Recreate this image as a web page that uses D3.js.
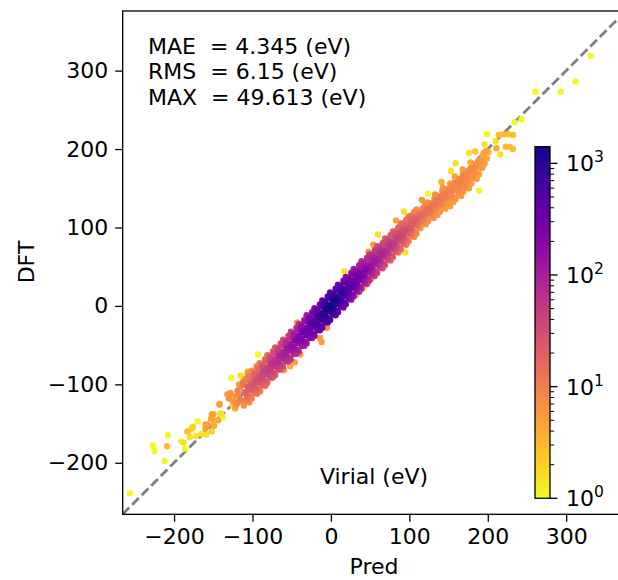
<!DOCTYPE html>
<html>
<head>
<meta charset="utf-8">
<script src="https://cdn.jsdelivr.net/npm/d3@7"></script>
<style>
  html, body { margin: 0; padding: 0; background: #fff; }
  svg text { font-family: "DejaVu Sans", sans-serif; fill: #000; }
</style>
</head>
<body>
<div id="chart"></div>
<script>
// [pred, dft, count]
const bandCore = [
  [-111,-127,6],[-108,-119,12],[-110,-110,20],[-112,-101,12],[-109,-93,6],
  [-104,-123,7],[-106,-113,14],[-105,-104,23],[-103,-97,14],[-106,-88,7],
  [-101,-118,8],[-99,-108,16],[-100,-101,27],[-98,-91,16],[-101,-83,8],
  [-94,-112,10],[-96,-104,19],[-95,-95,32],[-97,-86,19],[-94,-78,10],
  [-91,-108,11],[-89,-98,23],[-90,-91,38],[-88,-81,23],[-91,-73,11],
  [-84,-102,13],[-86,-94,26],[-85,-84,44],[-87,-77,26],[-84,-68,13],
  [-81,-98,16],[-79,-88,31],[-80,-81,52],[-78,-71,31],[-81,-63,16],
  [-74,-91,19],[-76,-84,37],[-75,-74,62],[-77,-67,37],[-74,-58,19],
  [-71,-88,22],[-69,-78,44],[-70,-71,74],[-68,-61,44],[-71,-53,22],
  [-64,-81,26],[-66,-74,53],[-65,-64,88],[-67,-57,53],[-64,-48,26],
  [-61,-78,32],[-59,-68,63],[-60,-61,105],[-58,-51,63],[-61,-43,32],
  [-54,-71,38],[-56,-64,75],[-55,-54,125],[-57,-47,75],[-54,-38,38],
  [-51,-68,46],[-49,-58,93],[-50,-51,155],[-48,-41,93],[-51,-33,46],
  [-44,-61,57],[-46,-54,114],[-45,-44,190],[-47,-37,114],[-44,-28,57],
  [-41,-58,69],[-39,-48,138],[-40,-41,230],[-38,-31,138],[-41,-23,69],
  [-34,-51,87],[-36,-44,174],[-35,-34,290],[-37,-27,174],[-34,-18,87],
  [-31,-48,108],[-29,-38,216],[-30,-31,360],[-28,-21,216],[-31,-12,108],
  [-24,-41,138],[-26,-34,276],[-25,-24,460],[-27,-17,276],[-24,-8,138],
  [-21,-38,180],[-19,-28,360],[-20,-21,600],[-18,-11,360],[-21,-3,180],
  [-14,-31,240],[-16,-24,480],[-15,-14,800],[-17,-7,480],[-14,2,240],
  [-11,-28,300],[-9,-18,600],[-10,-11,1000],[-8,-1,600],[-11,7,300],
  [-4,-21,375],[-6,-14,750],[-5,-4,1250],[-7,3,750],[-4,12,375],
  [-1,-18,420],[1,-8,840],[0,-1,1400],[2,9,840],[-1,17,420],
  [6,-12,375],[4,-3,750],[5,6,1250],[3,13,750],[6,22,375],
  [9,-8,300],[11,2,600],[10,9,1000],[12,19,600],[9,27,300],
  [16,-2,240],[14,6,480],[15,16,800],[13,23,480],[16,32,240],
  [19,2,180],[21,12,360],[20,19,600],[22,29,360],[19,37,180],
  [26,8,138],[24,16,276],[25,26,460],[23,33,276],[26,42,138],
  [29,12,108],[31,22,216],[30,29,360],[32,39,216],[29,47,108],
  [36,18,87],[34,26,174],[35,36,290],[33,43,174],[36,52,87],
  [39,22,69],[41,32,138],[40,39,230],[42,49,138],[39,57,69],
  [46,28,57],[44,36,114],[45,46,190],[43,53,114],[46,61,57],
  [49,32,46],[51,42,93],[50,49,155],[52,59,93],[49,66,46],
  [56,38,38],[54,46,75],[55,56,125],[53,63,75],[56,71,38],
  [59,42,32],[61,52,63],[60,59,105],[62,69,63],[59,76,32],
  [66,48,26],[64,56,53],[65,66,88],[63,73,53],[66,80,26],
  [69,52,22],[71,62,44],[70,69,74],[72,79,44],[69,86,22],
  [76,58,19],[74,66,37],[75,76,62],[73,83,37],[76,90,19],
  [79,62,16],[81,72,31],[80,79,52],[82,89,31],[79,95,16],
  [86,68,13],[84,76,26],[85,86,44],[83,93,26],[86,100,13],
  [89,72,11],[91,82,23],[90,89,38],[92,98,23],[89,105,11],
  [96,78,10],[94,86,19],[95,96,32],[93,103,19],[96,110,10],
  [99,82,8],[101,92,16],[100,99,27],[102,108,16],[99,114,8],
  [106,88,7],[104,96,14],[105,106,23],[103,113,14],[106,119,7],
  [109,92,6],[111,102,12],[110,109,20],[112,118,12],[109,123,6]
];

// second pass of the band, between the rows above
const bandFill = [
  [-107,-121,9],[-108,-112,17],[-106,-103,17],[-108,-95,9],
  [-103,-116,11],[-102,-107,20],[-101,-98,20],[-103,-90,11],
  [-97,-111,13],[-98,-102,23],[-96,-93,23],[-98,-85,13],
  [-93,-106,16],[-92,-97,28],[-91,-88,28],[-93,-80,16],
  [-87,-101,18],[-88,-92,33],[-86,-83,33],[-88,-75,18],
  [-83,-96,22],[-82,-87,38],[-81,-78,38],[-83,-70,22],
  [-77,-91,26],[-78,-82,46],[-76,-73,46],[-78,-65,26],
  [-73,-86,31],[-72,-77,54],[-71,-68,54],[-73,-60,31],
  [-67,-81,36],[-68,-72,65],[-66,-63,65],[-68,-55,36],
  [-63,-76,43],[-62,-67,77],[-61,-58,77],[-63,-50,43],
  [-57,-71,52],[-58,-62,92],[-56,-53,92],[-58,-45,52],
  [-53,-66,63],[-52,-57,112],[-51,-48,112],[-53,-40,63],
  [-47,-61,77],[-48,-52,136],[-46,-43,136],[-48,-35,77],
  [-43,-56,95],[-42,-47,168],[-41,-38,168],[-43,-30,95],
  [-37,-51,117],[-38,-42,208],[-36,-33,208],[-38,-25,117],
  [-33,-46,146],[-32,-37,260],[-31,-28,260],[-33,-20,146],
  [-27,-41,185],[-28,-32,328],[-26,-23,328],[-28,-15,185],
  [-23,-36,238],[-22,-27,424],[-21,-18,424],[-23,-10,238],
  [-17,-31,315],[-18,-22,560],[-16,-13,560],[-18,-5,315],
  [-13,-26,405],[-12,-17,720],[-11,-8,720],[-13,0,405],
  [-7,-21,504],[-8,-12,896],[-6,-3,896],[-8,5,504],
  [-3,-16,600],[-2,-7,1064],[-1,2,1064],[-3,10,600],
  [3,-11,600],[2,-2,1064],[3,7,1064],[2,15,600],
  [8,-6,504],[7,3,896],[8,12,896],[7,20,504],
  [13,-1,405],[12,8,720],[13,17,720],[12,25,405],
  [18,4,315],[17,13,560],[18,22,560],[17,30,315],
  [23,9,238],[22,18,424],[23,27,424],[22,35,238],
  [28,14,185],[27,23,328],[28,32,328],[27,40,185],
  [33,19,146],[32,28,260],[33,37,260],[32,45,146],
  [38,24,117],[37,33,208],[38,42,208],[37,50,117],
  [43,29,95],[42,38,168],[43,47,168],[42,55,95],
  [48,34,77],[47,43,136],[48,52,136],[47,60,77],
  [53,39,63],[52,48,112],[53,57,112],[52,65,63],
  [58,44,52],[57,53,92],[58,62,92],[57,70,52],
  [63,49,43],[62,58,77],[63,67,77],[62,75,43],
  [68,54,36],[67,63,65],[68,72,65],[67,80,36],
  [73,59,31],[72,68,54],[73,77,54],[72,85,31],
  [78,64,26],[77,73,46],[78,82,46],[77,90,26],
  [83,69,22],[82,78,38],[83,87,38],[82,95,22],
  [88,74,18],[87,83,33],[88,92,33],[87,100,18],
  [93,79,16],[92,88,28],[93,97,28],[92,105,16],
  [98,84,13],[97,93,23],[98,102,23],[97,110,13],
  [103,89,11],[102,98,20],[103,107,20],[102,115,11],
  [108,94,9],[107,103,17],[108,112,17],[107,120,9]
];

const bandHigh = [
  [114,100,6],[116,108,11],[115,115,17],[117,124,9],
  [121,104,6],[119,112,10],[120,119,15],[122,128,8],
  [124,108,6],[126,117,10],[125,124,14],[123,132,7],
  [131,112,6],[129,121,10],[130,129,13],[132,137,7],
  [136,116,6],[134,125,9],[135,134,12],[133,142,6],
  [139,120,5],[141,130,9],[140,138,11],[142,147,6],
  [146,124,5],[144,134,8],[145,143,10],[143,151,5],
  [149,128,5],[151,138,8],[150,147,10],[152,156,5],
  [156,132,5],[154,142,8],[155,152,9],
  [159,136,5],[161,147,8],[160,156,9],[158,165,5],
  [166,140,5],[164,150,8],[165,161,9],
  [169,146,5],[171,155,8],[170,166,9],[168,174,5],
  [176,150,5],[174,160,8],[175,170,8],
  [179,156,5],[181,165,7],[180,175,8],[178,183,4],
  [186,162,5],[184,170,7],[185,180,7],
  [189,168,4],[191,176,6],[190,186,6],
  [196,182,5],[194,192,4],
  [199,188,4],[201,196,3],
  [118,106,7],[117,114,12],[118,122,10],
  [123,110,7],[122,118,11],[123,127,9],
  [128,114,7],[127,122,11],[128,131,8],
  [133,118,7],[132,126,10],[133,135,8],
  [138,122,6],[137,130,10],[138,140,7],
  [143,126,6],[142,135,9],[143,144,7],
  [148,130,6],[147,139,9],[148,149,6],
  [153,134,6],[152,143,9],[153,153,6],
  [158,138,6],[157,148,8],[158,158,6],
  [163,143,6],[162,152,8],[163,162,6],
  [168,148,6],[167,157,8],[168,167,6],
  [173,152,6],[172,162,8],[173,171,6],
  [178,158,5],[177,167,7],[178,176,5],
  [183,163,5],[182,172,7],[183,181,5],
  [188,168,5],[187,177,6],
  [193,178,5],[192,186,5]
];

const bandLow = [
  [-115,-120,10],[-118,-112,8],[-120,-125,7],[-116,-104,6],[-122,-115,6],
  [-125,-122,5],[-128,-111,6],[-130,-118,6],[-112,-97,10],[-117,-100,6],
  [-113,-122,8],[-119,-108,9],[-132,-113,5],[-120,-124,6],[-122,-130,5],
  [-142,-125,5],[-150,-138,5],[-144,-146,4],[-153,-144,5],[-158,-152,5],
  [-160,-156,5],[-149,-153,4],[-152,-138,4],[-149,-146,4],[-142,-126,4],
  [-160,-151,4],[-157,-151,4],[-183,-160,3],[-209,-179,3],[-121,-120,3]
];

const outliers = [
  [-125,-127,2],[-122,-131,1.5],[-127,-92,1],[-115,-89,1.5],[-106,-84,5],
  [-95,-77,5],[-93,-62,1],[-140,-138,1.5],[-138,-142,1],[-141,-137,1.5],
  [-152,-160,2],[-159,-164,1.5],[-165,-163,1.5],[-172,-166,1.5],[-170,-147,1],
  [-176,-154,2],[-178,-157,1.5],[-180,-167,1.5],[-188,-174,1.5],[-191,-173,1],
  [-186,-182,1],[-208,-165,1],[-227,-178,1],[-225,-185,1],[-212,-198,1],
  [-256,-239,1],
  [17,44,1.5],[42,23,1.5],[52,35,4],[32,14,5],[-14,-41,5],[-12,-46,5],
  [-5,-28,6],[-43,-21,5],[-71,-54,5],[-75,-92,5],[-60,-82,5],[-52,-77,4],
  [-46,-72,5],[-39,-62,5],[-83,-101,6],[-90,-109,5],[48,69,5],
  [93,120,1.5],[60,91,1.5],[95,68,1.5],[54,78,5],[83,109,5],[86,95,5],
  [114,99,5],[150,131,5],[152,127,5],[116,122,5],[120,127,5],
  [199,219,1],[214,218,3],[220,219,3],[226,219,3],[232,218,3],
  [210,210,1.5],[196,206,1.5],[223,203,3],[228,203,3],[232,200,3],
  [211,201,4],[216,193,1.5],[198,198,5],[195,195,5],[176,195,1.5],
  [184,197,2.5],[188,184,5],[193,176,5],[159,182,1.5],[153,172,1.5],
  [141,158,4],[189,147,1],[175,151,4],[167,144,5],[124,143,1],
  [116,135,6],[120,129,6],[135,129,6],[152,135,6],
  [234,234,1],[243,238,1],[261,273,1],[293,273,1],[312,286,1],[331,319,1]
];

const xTicks = [-200, -100, 0, 100, 200, 300];
const yTicks = [-200, -100, 0, 100, 200, 300];
const cbTicks = [1, 10, 100, 1000];
const statLines = ["MAE  = 4.345 (eV)", "RMS  = 6.15 (eV)", "MAX  = 49.613 (eV)"];

const W = 618, H = 580;
const L = 122.7, T = 11, R = 625, B = 514.3;
const fs = 22;

const svg = d3.select("#chart").append("svg")
  .attr("width", W).attr("height", H);

const x = d3.scaleLinear().domain([-265.5, 375]).range([L, R]);
const y = d3.scaleLinear().domain([-265.7, 376]).range([B, T]);
const cmax = 1410;
const c = d3.scaleLog().domain([1, cmax]).range([0, 1]);
const color = v => d3.interpolatePlasma(1 - c(v));

svg.append("clipPath").attr("id", "clip")
  .append("rect").attr("x", L).attr("y", T).attr("width", R - L).attr("height", B - T);

const plot = svg.append("g").attr("clip-path", "url(#clip)");

// y = x reference line
plot.append("line")
  .attr("x1", x(-265.7)).attr("y1", y(-265.7))
  .attr("x2", x(380)).attr("y2", y(380))
  .attr("stroke", "#808080").attr("stroke-width", 2.8)
  .attr("stroke-dasharray", "9.5,4");

const points = bandCore.concat(bandFill, bandHigh, bandLow, outliers)
  .sort((a, b) => a[2] - b[2]);

plot.selectAll("circle").data(points).join("circle")
  .attr("cx", d => x(d[0]))
  .attr("cy", d => y(d[1]))
  .attr("r", 3.2)
  .attr("fill", d => color(d[2]));

// axes
const xAxis = svg.append("g").attr("transform", `translate(0,${B})`)
  .call(d3.axisBottom(x).tickValues(xTicks).tickSizeOuter(0).tickSize(7.5).tickPadding(7));
const yAxis = svg.append("g").attr("transform", `translate(${L},0)`)
  .call(d3.axisLeft(y).tickValues(yTicks).tickSizeOuter(0).tickSize(7.5).tickPadding(7));
[xAxis, yAxis].forEach(g => {
  g.select(".domain").remove();
  g.selectAll(".tick line").attr("stroke", "#000").attr("stroke-width", 1.3);
  g.selectAll(".tick text").style("font-size", fs + "px");
});

// frame
svg.append("rect").attr("x", L).attr("y", T).attr("width", R - L).attr("height", B - T)
  .attr("fill", "none").attr("stroke", "#000").attr("stroke-width", 1.3);

// stats text
const st = svg.append("text").attr("x", 148).attr("y", 54)
  .attr("xml:space", "preserve").style("font-size", fs + "px");
statLines.forEach((s, i) => {
  st.append("tspan").attr("x", 148).attr("y", 54 + i * 25.3).text(s);
});

svg.append("text").attr("x", 374).attr("y", 484).attr("text-anchor", "middle")
  .style("font-size", fs + "px").text("Virial (eV)");

svg.append("text").attr("x", 374).attr("y", 574).attr("text-anchor", "middle")
  .style("font-size", fs + "px").text("Pred");

svg.append("text").attr("transform", "translate(34,262) rotate(-90)")
  .attr("text-anchor", "middle").style("font-size", fs + "px").text("DFT");

// colorbar
const cbL = 535, cbR = 550, cbT = 146.7, cbB = 498.3;
const cy = d3.scaleLog().domain([1, cmax]).range([cbB, cbT]);
const grad = svg.append("defs").append("linearGradient").attr("id", "cbgrad")
  .attr("x1", 0).attr("y1", 1).attr("x2", 0).attr("y2", 0);
d3.range(0, 1.0001, 0.05).forEach(t => {
  grad.append("stop").attr("offset", t).attr("stop-color", d3.interpolatePlasma(1 - t));
});
svg.append("rect").attr("x", cbL).attr("y", cbT).attr("width", cbR - cbL).attr("height", cbB - cbT)
  .attr("fill", "url(#cbgrad)").attr("stroke", "#000").attr("stroke-width", 1.3);

const minor = [];
[1, 10, 100, 1000].forEach(d => { for (let k = 2; k <= 9; k++) if (d * k <= cmax) minor.push(d * k); });
svg.append("g").selectAll("line").data(minor).join("line")
  .attr("x1", cbR).attr("x2", cbR + 4.2)
  .attr("y1", d => cy(d)).attr("y2", d => cy(d))
  .attr("stroke", "#000").attr("stroke-width", 1);

const cbg = svg.append("g").selectAll("g").data(cbTicks).join("g")
  .attr("transform", d => `translate(${cbR},${cy(d)})`);
cbg.append("line").attr("x2", 7.5).attr("stroke", "#000").attr("stroke-width", 1.3);
const lab = cbg.append("text").attr("x", 16).attr("y", 8).style("font-size", fs + "px");
lab.append("tspan").text("10");
lab.append("tspan").attr("dy", -9).style("font-size", "15.5px").text(d => Math.round(Math.log10(d)));
</script>
</body>
</html>
